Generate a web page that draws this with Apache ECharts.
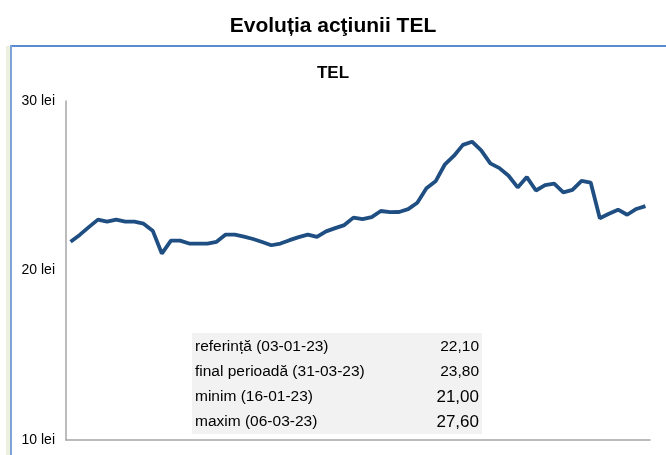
<!DOCTYPE html>
<html>
<head>
<meta charset="utf-8">
<script src="https://cdn.jsdelivr.net/npm/echarts@6/dist/echarts.min.js"></script>
<style>
  html, body { margin: 0; padding: 0; background: #fff; }
  #chart { width: 666px; height: 455px; }
</style>
</head>
<body>
<div id="chart"></div>
<script>
// zile de tranzactionare (30-12-22 .. 31-03-23)
var dates = [
  '30-12-22',
  '03-01-23', '04-01-23', '05-01-23', '06-01-23', '09-01-23', '10-01-23', '11-01-23', '12-01-23', '13-01-23',
  '16-01-23', '17-01-23', '18-01-23', '19-01-23', '20-01-23', '23-01-23', '25-01-23', '26-01-23', '27-01-23',
  '30-01-23', '31-01-23',
  '01-02-23', '02-02-23', '03-02-23', '06-02-23', '07-02-23', '08-02-23', '09-02-23', '10-02-23', '13-02-23',
  '14-02-23', '15-02-23', '16-02-23', '17-02-23', '20-02-23', '21-02-23', '22-02-23', '23-02-23', '24-02-23',
  '27-02-23', '28-02-23',
  '01-03-23', '02-03-23', '03-03-23', '06-03-23', '07-03-23', '08-03-23', '09-03-23', '10-03-23', '13-03-23',
  '14-03-23', '15-03-23', '16-03-23', '17-03-23', '20-03-23', '21-03-23', '22-03-23', '23-03-23', '24-03-23',
  '27-03-23', '28-03-23', '29-03-23', '30-03-23', '31-03-23'
];

var prices = [
  21.69,
  22.10, 22.56, 23.00, 22.88, 23.00, 22.88, 22.88, 22.76, 22.35,
  21.00, 21.76, 21.76, 21.59, 21.59, 21.59, 21.69, 22.12, 22.12,
  22.00, 21.86,
  21.68, 21.49, 21.59, 21.79, 21.97, 22.12, 21.98, 22.31, 22.50,
  22.68, 23.12, 23.03, 23.15, 23.51, 23.44, 23.45, 23.62, 24.00,
  24.85, 25.26,
  26.24, 26.76, 27.41, 27.60, 27.09, 26.32, 26.04, 25.59, 24.90,
  25.51, 24.72, 25.04, 25.12, 24.61, 24.76, 25.29, 25.19, 23.08,
  23.35, 23.59, 23.29, 23.63, 23.80
];

var yTicks = [10, 20, 30];

var tableLabels = ['referință (03-01-23)', 'final perioadă (31-03-23)', 'minim (16-01-23)', 'maxim (06-03-23)'];
var tableValues = ['22,10', '23,80', '21,00', '27,60'];

var chart = echarts.init(document.getElementById('chart'));

var font = '"Liberation Sans", Arial, sans-serif';

var graphics = [
  // rama
  { type: 'rect', shape: { x: 6, y: 46, width: 4, height: 409 }, style: { fill: '#ebf1de' }, silent: true },
  { type: 'rect', shape: { x: 10, y: 45, width: 656, height: 2 }, style: { fill: '#5b8bd0' }, silent: true },
  { type: 'rect', shape: { x: 10, y: 45, width: 2, height: 410 }, style: { fill: '#7ea3d8' }, silent: true },
  // tabel
  { type: 'rect', shape: { x: 192, y: 333, width: 290, height: 101 }, style: { fill: '#f2f2f2' }, silent: true, z: 10 }
];

tableLabels.forEach(function (lbl, i) {
  graphics.push({
    type: 'text', x: 195, y: 347 + i * 25, z: 11,
    style: { text: lbl, fill: '#000', font: '15.5px ' + font, verticalAlign: 'middle', align: 'left' }
  });
  graphics.push({
    type: 'text', x: 479, y: 347 + i * 25, z: 11,
    style: { text: tableValues[i], fill: '#000', font: (i >= 2 ? '17px ' : '15.5px ') + font, verticalAlign: 'middle', align: 'right' }
  });
});

var option = {
  animation: false,
  backgroundColor: '#fff',
  title: [
    {
      text: 'Evoluția acţiunii TEL',
      left: 'center',
      top: 11,
      textStyle: { fontFamily: font, fontSize: 21, fontWeight: 'bold', color: '#000' }
    },
    {
      text: 'TEL',
      left: 'center',
      top: 60,
      textStyle: { fontFamily: font, fontSize: 17, fontWeight: 'bold', color: '#000' }
    }
  ],
  grid: {
    left: 66,
    right: 16,
    top: 101,
    bottom: 15
  },
  xAxis: {
    type: 'category',
    data: dates,
    boundaryGap: true,
    axisLine: { lineStyle: { color: '#a6a6a6', width: 1.5 } },
    axisTick: { show: false },
    axisLabel: { show: false },
    splitLine: { show: false }
  },
  yAxis: {
    type: 'value',
    min: yTicks[0],
    max: yTicks[yTicks.length - 1],
    interval: 10,
    axisLine: { show: true, lineStyle: { color: '#a6a6a6', width: 1.5 } },
    axisTick: { show: false },
    splitLine: { show: false },
    axisLabel: {
      margin: 11,
      color: '#000',
      fontFamily: font,
      fontSize: 14,
      formatter: '{value} lei'
    }
  },
  series: [
    {
      name: 'TEL',
      type: 'line',
      data: prices,
      symbol: 'none',
      smooth: false,
      lineStyle: { color: '#1f4e82', width: 3.8 },
      z: 5
    }
  ],
  graphic: graphics
};

option && chart.setOption(option);
</script>
</body>
</html>
